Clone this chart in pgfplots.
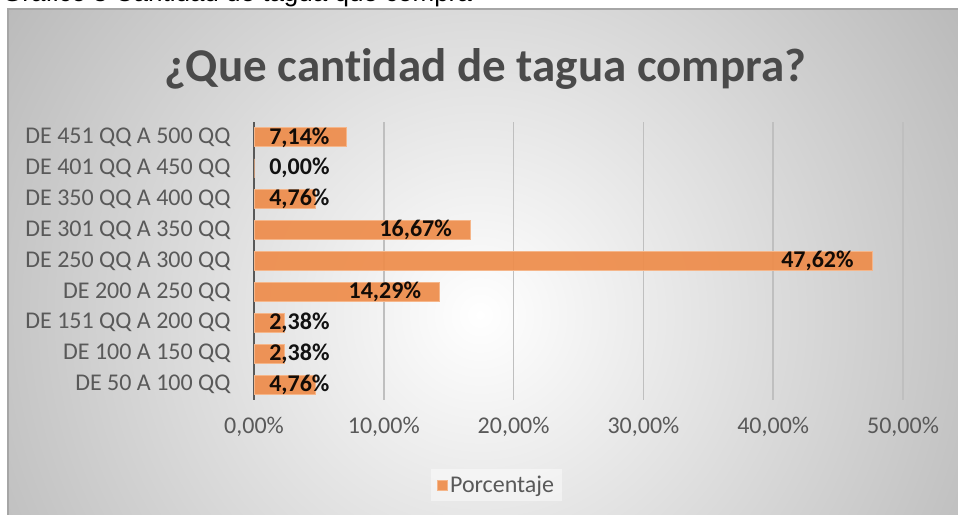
\documentclass[border=0pt]{standalone}
\usepackage{fontspec}
\setmainfont{Carlito}[Ligatures=NoCommon]
\newfontfamily\arialf{Liberation Sans}
\usepackage{pgfplots}
\pgfplotsset{compat=1.18}
\definecolor{barc}{HTML}{EE8C4A}
\definecolor{baredge}{HTML}{F5B68A}
\definecolor{txt}{HTML}{595959}
\definecolor{ttl}{HTML}{4A4A4A}
\definecolor{gridc}{HTML}{BFBFBF}
\definecolor{framec}{HTML}{A6A6A6}
\definecolor{outerc}{HTML}{B4B4B4}
\begin{document}
\begin{tikzpicture}[x=1bp,y=1bp]
\useasboundingbox (0,0) rectangle (958,515);
\begin{scope}
\clip (0,0) rectangle (958,515);
\node[anchor=base west, font=\arialf\fontsize{26bp}{30bp}\selectfont, inner sep=0, color=black] at (2,513.5) {Gráfico 3 Cantidad de tagua que compra};
\clip (8,0) rectangle (958,506);
\shade[inner color=white, outer color=outerc] (480,200) circle (620);
\end{scope}
\draw[color=framec, line width=1.5bp] (8,0) -- (8,506) -- (958,506);
\node[font=\bfseries\fontsize{47bp}{54bp}\selectfont, color=ttl] at (485,446) {¿Que cantidad de tagua compra?};
\begin{axis}[
  at={(254bp,115bp)}, anchor=south west, scale only axis,
  width=649bp, height=278bp,
  xbar, bar width=19bp,
  xmin=0, xmax=50, ymin=-0.5, ymax=8.5,
  xtick={0,10,...,50},
  ytick={0,...,8},
  yticklabels={DE 50 A 100 QQ, DE 100 A 150 QQ, DE 151 QQ A 200 QQ, DE 200 A 250 QQ, DE 250 QQ A 300 QQ, DE 301 QQ A 350 QQ, DE 350 QQ A 400 QQ, DE 401 QQ A 450 QQ, DE 451 QQ A 500 QQ},
  xticklabel={\pgfmathprintnumber[fixed,fixed zerofill,precision=2,use comma,assume math mode=true]{\tick}\%},
  major tick length=0pt,
  xmajorgrids, major grid style={color=gridc, line width=1.5bp},
  axis x line*=bottom, x axis line style={draw=none},
  axis y line*=left, y axis line style={draw=txt, line width=2.5bp, -},
  tick label style={font=\fontsize{24bp}{28bp}\selectfont, color=txt},
  yticklabel style={anchor=east, xshift=-20bp},
  xticklabel style={anchor=north, yshift=-14bp},
  clip=false,
  point meta=x,
  visualization depends on={rawx \as \rx},
  nodes near coords={\pgfmathprintnumber[fixed,fixed zerofill,precision=2,use comma,assume math mode=true]{\pgfplotspointmeta}\%},
  every node near coord/.append style={anchor=east, font=\bfseries\fontsize{24bp}{28bp}\selectfont, color=black, xshift={(max(\rx,7.24)-\rx)*13.03-18.07}, inner sep=0pt},
  legend style={at={(0.374,-0.306)}, anchor=center, draw=none, fill=white, fill opacity=0.45, text opacity=1, font=\fontsize{24bp}{28bp}\selectfont, text=txt, inner xsep=6bp, inner ysep=5bp},
  legend image code/.code={\draw[fill=barc, draw=baredge, line width=0.8bp] (0bp,-5bp) rectangle (10bp,5bp);},
]
\addplot[fill=barc, draw=baredge, line width=1bp, fill opacity=0.92] coordinates {
(4.76,0) (2.38,1) (2.38,2) (14.29,3) (47.62,4) (16.67,5) (4.76,6) (0,7) (7.14,8)
};
\addlegendentry{Porcentaje}
\end{axis}
\end{tikzpicture}
\end{document}
